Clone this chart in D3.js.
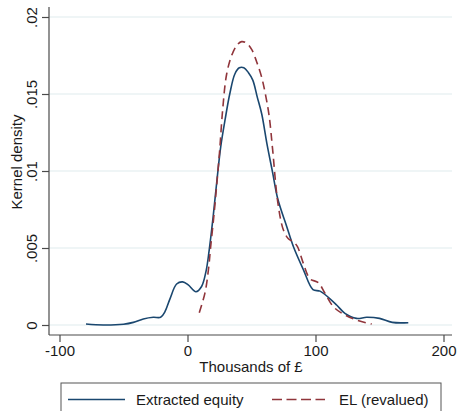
<!DOCTYPE html>
<html>
<head>
<meta charset="utf-8">
<script src="https://cdn.jsdelivr.net/npm/d3@7"></script>
<style>
  html, body { margin: 0; padding: 0; background: #fff; }
  svg { display: block; font-family: "Liberation Sans", Arial, sans-serif; }
</style>
</head>
<body>
<svg id="chart" width="457" height="411"></svg>
<script>
// Kernel density estimates, thousands of £
const equityX = [-79.3, -65.8, -50, -42.3, -34.5, -26.7, -21, -17.6, -13.7, -8.5, -3.8, 0.6, 6.6, 11, 14.5, 17, 20, 23, 26, 29.5, 33, 37, 40.5, 44, 47.5, 51, 54.5, 58, 62, 66.5, 70.5, 77.5, 82.7, 90.5, 98, 103.5, 110, 116.5, 123, 132, 140, 150, 160, 172.5];
const equityDensity = [0.00006, 0.0, 0.00005, 0.00017, 0.00039, 0.0005, 0.0005, 0.00087, 0.0017, 0.00266, 0.0028, 0.0026, 0.00216, 0.0025, 0.0035, 0.0049, 0.0070, 0.0094, 0.0116, 0.0134, 0.0150, 0.0163, 0.0167, 0.0167, 0.0164, 0.0159, 0.0148, 0.0137, 0.0118, 0.0099, 0.0082, 0.0064, 0.0051, 0.0036, 0.0023, 0.0022, 0.0018, 0.0013, 0.00076, 0.00043, 0.0005, 0.00043, 0.00017, 0.00015];

const elX = [9.2, 13.7, 16.5, 18, 20.5, 22.5, 25, 27.5, 30.6, 34.5, 38.9, 42.3, 46.2, 50.1, 54, 57.9, 61.3, 63.9, 66.5, 70.5, 74.8, 78.8, 82.7, 85.8, 90.5, 95.7, 102.2, 107.4, 113.9, 121.7, 132.2, 143.9];
const elDensity = [0.0008, 0.0021, 0.0037, 0.0050, 0.0070, 0.0088, 0.0112, 0.0140, 0.0163, 0.0175, 0.0182, 0.0184, 0.0183, 0.0179, 0.0171, 0.0161, 0.0148, 0.0135, 0.0114, 0.0080, 0.0062, 0.0056, 0.0054, 0.0051, 0.0040, 0.0030, 0.00275, 0.00206, 0.00119, 0.00071, 0.00032, 0.00006];

const seriesNames = ["Extracted equity", "EL (revalued)"];
const seriesColors = ["#1a476f", "#90353b"];
const xTicks = [-100, 0, 100, 200];
const xTickLabels = ["-100", "0", "100", "200"];
const yTicks = [0, 0.005, 0.01, 0.015, 0.02];
const yTickLabels = ["0", ".005", ".01", ".015", ".02"];

const svg = d3.select("#chart");
svg.append("rect").attr("width", 457).attr("height", 411).attr("fill", "#fff");

const plot = { left: 49, right: 452, top: 7, bottom: 335 };

const x = d3.scaleLinear().domain([-100, 200]).range([59.5, 443.5]);
const y = d3.scaleLinear().domain([0, 0.02]).range([325, 17]);

// horizontal grid
svg.append("g").selectAll("line").data(yTicks).join("line")
  .attr("x1", plot.left).attr("x2", plot.right)
  .attr("y1", d => y(d)).attr("y2", d => y(d))
  .attr("stroke", "#eaf2f3").attr("stroke-width", 1.5);

// axes
const xAxis = svg.append("g").attr("transform", `translate(0,${plot.bottom})`)
  .call(d3.axisBottom(x).tickValues(xTicks).tickSize(7).tickPadding(3).tickFormat((d, i) => xTickLabels[i]));
xAxis.select(".domain").attr("d", `M${plot.left},0H${plot.right}`);

const yAxis = svg.append("g").attr("transform", `translate(${plot.left},0)`)
  .call(d3.axisLeft(y).tickValues(yTicks).tickSize(7).tickFormat((d, i) => yTickLabels[i]));
yAxis.select(".domain").attr("d", `M0,${plot.top}V${plot.bottom}`);

[xAxis, yAxis].forEach(g => {
  g.select(".domain").attr("stroke", "#4a4a4a").attr("stroke-width", 1.2);
  g.selectAll(".tick line").attr("stroke", "#4a4a4a").attr("stroke-width", 1.2);
  g.selectAll(".tick text").attr("fill", "#1a1a1a").style("font-size", "15px")
    .style("font-family", '"Liberation Sans", Arial, sans-serif');
});

yAxis.selectAll(".tick text")
  .attr("x", null).attr("dy", null)
  .attr("text-anchor", "middle")
  .attr("transform", "translate(-12,0) rotate(-90)");

// axis titles
svg.append("text").attr("x", 251).attr("y", 371.5).attr("text-anchor", "middle")
  .attr("fill", "#1a1a1a").style("font-size", "15px").text("Thousands of £");
svg.append("text").attr("transform", "translate(22,162) rotate(-90)").attr("text-anchor", "middle")
  .attr("fill", "#1a1a1a").style("font-size", "15px").text("Kernel density");

// density curves
const line = d3.line().x(d => x(d[0])).y(d => y(d[1])).curve(d3.curveCatmullRom.alpha(0.5));
const equityPts = d3.zip(equityX, equityDensity);
const elPts = d3.zip(elX, elDensity);

svg.append("path").datum(equityPts).attr("d", line)
  .attr("fill", "none").attr("stroke", seriesColors[0]).attr("stroke-width", 1.6);
svg.append("path").datum(elPts).attr("d", line)
  .attr("fill", "none").attr("stroke", seriesColors[1]).attr("stroke-width", 1.6)
  .attr("stroke-dasharray", "8,5");

// legend
const lg = svg.append("g");
lg.append("rect").attr("x", 61).attr("y", 383).attr("width", 380).attr("height", 40)
  .attr("fill", "#fff").attr("stroke", "#555").attr("stroke-width", 1);
lg.append("line").attr("x1", 68).attr("x2", 125).attr("y1", 399.5).attr("y2", 399.5)
  .attr("stroke", seriesColors[0]).attr("stroke-width", 1.6);
lg.append("text").attr("x", 136).attr("y", 404.5).attr("fill", "#1a1a1a")
  .style("font-size", "15px").text(seriesNames[0]);
lg.append("line").attr("x1", 272).attr("x2", 325).attr("y1", 399.5).attr("y2", 399.5)
  .attr("stroke", seriesColors[1]).attr("stroke-width", 1.6).attr("stroke-dasharray", "10,4.5");
lg.append("text").attr("x", 339).attr("y", 404.5).attr("fill", "#1a1a1a")
  .style("font-size", "15px").text(seriesNames[1]);
</script>
</body>
</html>
